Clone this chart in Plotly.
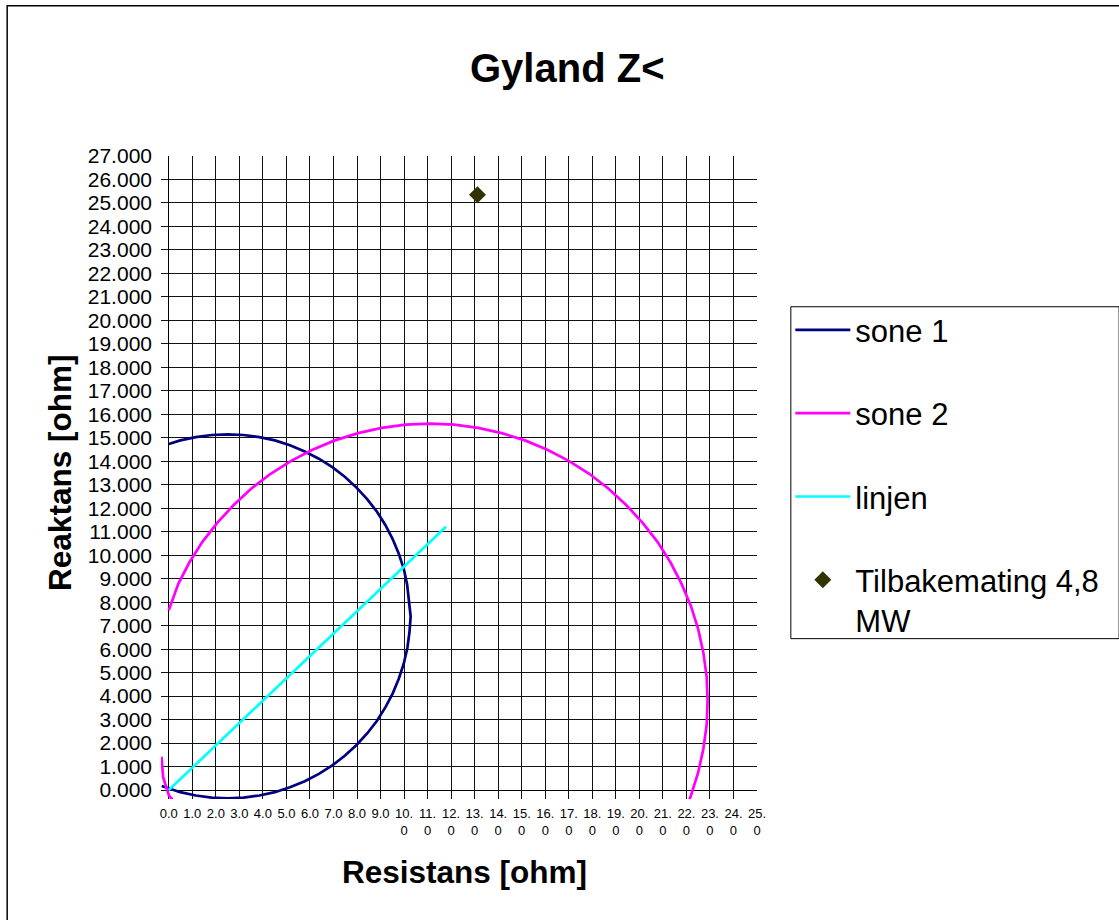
import plotly.graph_objects as go

# ---------------- data ----------------
sone1_x = [0.00, 0.49, 1.15, 1.82, 2.50, 3.18, 3.85, 4.51, 5.15, 5.78, 6.38, 6.95, 7.48,
           7.98, 8.44, 8.85, 9.21, 9.52, 9.78, 9.99, 10.13, 10.22, 10.28, 10.23, 10.14,
           9.99, 9.78, 9.52, 9.21, 8.85, 8.44, 7.98, 7.48, 6.95, 6.38, 5.78, 5.15, 4.51,
           3.85, 3.18, 2.50, 1.82, 1.15, 0.49, -0.15, -0.30]
sone1_y = [14.74, 14.89, 15.03, 15.12, 15.15, 15.12, 15.03, 14.89, 14.68, 14.42, 14.11,
           13.75, 13.34, 12.88, 12.38, 11.85, 11.28, 10.68, 10.05, 9.41, 8.75, 8.08, 7.40,
           6.72, 6.05, 5.39, 4.75, 4.12, 3.53, 2.95, 2.42, 1.92, 1.46, 1.05, 0.69, 0.38,
           0.12, -0.09, -0.23, -0.32, -0.35, -0.32, -0.23, -0.09, 0.12, 0.17]

sone2_x = [-0.31, -0.24, 0.01, 0.16, None,
           0.00, 0.41, 0.88, 1.43, 2.06, 2.76, 3.51, 4.33, 5.20, 6.11, 7.06, 8.05, 9.05,
           10.07, 11.10, 12.13, 13.15, 14.15, 15.14, 16.09, 17.00, 17.87, 18.68, 19.44,
           20.14, 20.77, 21.32, 21.79, 22.19, 22.50, 22.72, 22.86, 22.90, 22.86, 22.72,
           22.50, 22.19, 22.12]
sone2_y = [1.42, 0.55, -0.24, -0.40, None,
           7.66, 8.79, 9.70, 10.57, 11.38, 12.14, 12.84, 13.47, 14.02, 14.49, 14.89, 15.20,
           15.42, 15.56, 15.60, 15.56, 15.42, 15.20, 14.89, 14.49, 14.02, 13.47, 12.84,
           12.14, 11.38, 10.57, 9.70, 8.79, 7.84, 6.85, 5.85, 4.83, 3.80, 2.77, 1.75,
           0.75, -0.24, -0.43]

linjen_x = [0.0, 11.78]
linjen_y = [0.0, 11.21]

tilbake_x = [13.12]
tilbake_y = [25.35]

x_tick_vals = list(range(0, 26))
x_tick_labels = ["0.0", "1.0", "2.0", "3.0", "4.0", "5.0", "6.0", "7.0", "8.0", "9.0",
                 "10.<br>0", "11.<br>0", "12.<br>0", "13.<br>0", "14.<br>0", "15.<br>0",
                 "16.<br>0", "17.<br>0", "18.<br>0", "19.<br>0", "20.<br>0", "21.<br>0",
                 "22.<br>0", "23.<br>0", "24.<br>0", "25.<br>0"]

title_text = "Gyland Z<"
x_title = "Resistans [ohm]"
y_title = "Reaktans [ohm]"

FONT = "Arial, Liberation Sans, sans-serif"

fig = go.Figure()
fig.add_trace(go.Scatter(x=sone1_x, y=sone1_y, mode="lines", name="sone 1",
                         line=dict(color="#000080", width=2.7), legendgroup="g1"))
fig.add_trace(go.Scatter(x=sone2_x, y=sone2_y, mode="lines", name="sone 2",
                         line=dict(color="#FF00FF", width=2.7), legendgroup="g2",
                         connectgaps=False))
fig.add_trace(go.Scatter(x=linjen_x, y=linjen_y, mode="lines", name="linjen",
                         line=dict(color="#00FFFF", width=2.7), legendgroup="g3"))
fig.add_trace(go.Scatter(x=tilbake_x, y=tilbake_y, mode="markers",
                         name="Tilbakemating 4,8<br>MW",
                         marker=dict(symbol="diamond", size=13, color="#333300"),
                         legendgroup="g4"))

L, R, T, B = 161.2, 756.7, 155.7, 798.9
W, H = 1119, 920
pw, ph = R - L, B - T


def px(x):
    return (x - L) / pw


def py(y):
    return (B - y) / ph


fig.update_layout(
    width=W, height=H,
    margin=dict(l=L, r=W - R, t=T, b=H - B, autoexpand=False),
    paper_bgcolor="white", plot_bgcolor="white",
    font=dict(family=FONT, color="black"),
    showlegend=True,
    legend=dict(x=px(790), y=py(303), xanchor="left", yanchor="top",
                bgcolor="rgba(0,0,0,0)", borderwidth=0,
                font=dict(size=31, family=FONT, color="black"),
                tracegroupgap=40, traceorder="grouped", itemwidth=55,
                valign="top"),
    xaxis=dict(range=[-0.33, 25], tickmode="array", tickvals=x_tick_vals,
               ticktext=x_tick_labels, showgrid=True, gridcolor="#111111", gridwidth=1,
               zeroline=True, zerolinecolor="black", zerolinewidth=1,
               showline=False, ticks="", tickfont=dict(size=13, family=FONT),
               ticklabelstandoff=5, tickangle=0),
    yaxis=dict(range=[-0.38, 27], tickmode="linear", tick0=0, dtick=1,
               tickformat=".3f", showgrid=True, gridcolor="#111111", gridwidth=1,
               zeroline=True, zerolinecolor="black", zerolinewidth=1,
               showline=False, ticks="", tickfont=dict(size=21, family=FONT),
               ticklabelstandoff=8),
    annotations=[
        dict(text=f"<b>{title_text}</b>", x=px(567), y=py(68), xref="paper", yref="paper",
             showarrow=False, font=dict(size=40, family=FONT), xanchor="center", yanchor="middle"),
        dict(text=f"<b>{x_title}</b>", x=px(464), y=py(872), xref="paper", yref="paper",
             showarrow=False, font=dict(size=31.5, family=FONT), xanchor="center", yanchor="middle"),
        dict(text=f"<b>{y_title}</b>", x=px(60), y=py(473), xref="paper", yref="paper",
             showarrow=False, font=dict(size=31.5, family=FONT), textangle=-90,
             xanchor="center", yanchor="middle"),
    ],
    shapes=[
        dict(type="rect", xref="paper", yref="paper", x0=px(7.5), y0=py(1000), x1=px(1200), y1=py(5.5),
             line=dict(color="black", width=1.5), fillcolor="rgba(0,0,0,0)", layer="below"),
        dict(type="rect", xref="paper", yref="paper", x0=px(790.5), y0=py(638.5), x1=px(1118.5), y1=py(306.5),
             line=dict(color="black", width=1), fillcolor="white", layer="below"),
    ],
)

fig.write_html("out.html", config={"displayModeBar": False},
               post_script="document.body.style.margin='0px';")
